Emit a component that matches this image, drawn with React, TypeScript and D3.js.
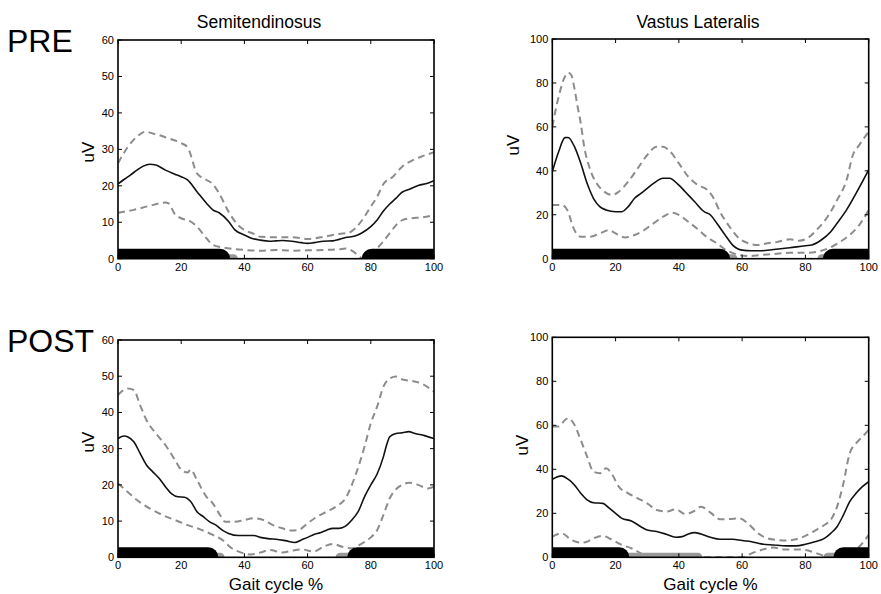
import React from 'react';
import * as d3 from 'd3';

type Pt = [number, number];

const gaitTicks = [0, 20, 40, 60, 80, 100];
const semiTicks = [0, 10, 20, 30, 40, 50, 60];
const vastusTicks = [0, 20, 40, 60, 80, 100];
const muscleTitles = ['Semitendinosus', 'Vastus Lateralis'];
const sessionLabels = ['PRE', 'POST'];
const yLabel = 'uV';
const xLabel = 'Gait cycle %';

// PRE Semitendinosus
const preSemiMean: Pt[] = [[0,20.5],[2,21.8],[4,23.0],[6,24.3],[8,25.4],[10,25.9],[12,25.7],[15,24.3],[18,23.2],[20,22.5],[22,21.6],[25,18.4],[28,15.2],[30,13.4],[32,12.6],[35,10.2],[37,7.9],[40,6.5],[42,5.7],[45,5.1],[48,4.8],[50,4.9],[52,5.0],[55,4.8],[58,4.4],[60,4.2],[62,4.4],[65,4.8],[68,4.9],[70,5.3],[72,5.8],[75,6.2],[77,7.0],[80,8.8],[82,10.6],[84,13.1],[86,15.0],[88,16.6],[90,18.3],[92,19.0],[95,20.1],[98,20.7],[100,21.4]];
const preSemiUpper: Pt[] = [[0,26.2],[3,30.5],[6,33.5],[9,34.9],[10,34.6],[13,33.9],[15,33.3],[20,31.7],[22,30.6],[25,23.4],[28,21.6],[30,20.5],[32,17.9],[35,12.9],[38,9.2],[40,7.9],[43,6.8],[45,6.0],[50,5.9],[55,5.9],[60,5.4],[65,6.0],[70,6.8],[73,7.1],[75,8.3],[78,11.5],[80,14.3],[82,17.0],[84,20.5],[87,22.5],[90,25.3],[93,26.9],[96,28.0],[100,29.2]];
const preSemiLower: Pt[] = [[0,12.6],[5,13.4],[10,14.5],[15,15.4],[16,15.2],[18,12.2],[20,11.1],[23,10.2],[25,8.8],[28,5.6],[30,3.8],[33,3.1],[36,2.7],[40,2.4],[45,2.2],[50,2.4],[55,2.2],[60,2.3],[65,2.4],[70,2.6],[72,2.8],[74,2.2],[76,0.9],[77.5,0],[80,1.3],[83,3.8],[86,7.0],[88,9.2],[90,10.6],[93,11.1],[96,11.3],[100,12.0]];

// PRE Vastus Lateralis
const preVastMean: Pt[] = [[0,39.6],[2,48.7],[4,55.1],[5,55.2],[7,51.0],[9,43.4],[11,34.3],[13,27.5],[15,23.7],[17,22.2],[20,21.4],[22,21.4],[24,23.7],[26,27.5],[28,29.7],[30,32.0],[32,34.3],[35,36.6],[37,36.6],[40,33.5],[42,30.5],[45,25.9],[48,21.4],[50,19.9],[52,16.1],[55,10.0],[57,6.2],[60,3.9],[63,3.6],[66,3.6],[70,4.2],[75,5.0],[80,5.9],[82,6.2],[85,8.5],[88,12.3],[90,16.1],[93,22.2],[96,29.7],[100,40.4]];
const preVastUpper: Pt[] = [[0,60.1],[2,73.7],[4,82.9],[5,84.7],[6,83.6],[7,77.5],[8,69.2],[9,61.6],[10,51.7],[12,40.4],[14,34.3],[16,31.0],[19,29.0],[21,30.5],[24,35.1],[27,41.1],[30,47.2],[33,51.0],[35,51.0],[37,49.2],[40,43.4],[43,37.3],[46,33.5],[49,31.3],[51,27.5],[53,21.4],[56,14.6],[59,9.3],[62,7.0],[65,6.2],[68,7.0],[71,7.6],[75,8.8],[78,8.2],[81,9.7],[84,13.8],[87,19.1],[90,26.7],[93,35.8],[95,47.2],[97,51.7],[100,57.8]];
const preVastLower: Pt[] = [[0,24.4],[3,24.4],[5,21.4],[6,16.8],[7,13.0],[9,10.0],[12,10.0],[15,11.5],[18,13.0],[20,11.5],[23,9.7],[26,10.8],[29,13.0],[32,16.1],[35,19.1],[38,20.9],[40,19.9],[43,16.8],[46,13.4],[49,9.7],[52,7.0],[55,3.9],[58,2.1],[62,1.2],[66,1.7],[70,2.1],[75,2.7],[80,2.7],[85,3.6],[88,5.2],[91,7.7],[94,10.8],[97,15.3],[100,22.2]];

// POST Semitendinosus
const postSemiMean: Pt[] = [[0,32.8],[2,33.5],[3,33.3],[5,31.9],[7,28.7],[9,25.5],[11,23.6],[13,21.8],[15,19.5],[17,17.5],[19,16.7],[21,16.6],[23,15.4],[25,12.6],[27,11.2],[29,9.8],[31,8.9],[33,7.5],[35,6.6],[38,6.0],[40,6.0],[43,6.0],[45,5.5],[48,5.1],[50,5.0],[53,4.6],[56,4.1],[58,4.8],[60,5.5],[62,6.3],[64,6.8],[66,7.5],[68,8.0],[70,8.0],[72,8.6],[74,10.3],[76,12.6],[78,16.7],[80,20.0],[82,23.0],[84,27.8],[85,31.0],[86,33.3],[88,34.2],[90,34.4],[92,34.7],[94,34.2],[97,33.6],[100,32.8]];
const postSemiUpper: Pt[] = [[0,44.8],[3,46.6],[5,46.2],[7,42.0],[9,37.9],[12,34.2],[15,31.0],[18,26.9],[20,24.2],[22,23.4],[23,24.2],[25,21.3],[28,16.7],[30,14.9],[32,12.1],[34,9.8],[37,9.8],[40,10.3],[43,10.8],[46,10.3],[49,8.9],[52,8.0],[55,7.4],[57,7.5],[60,9.4],[63,11.2],[66,12.6],[69,14.0],[72,16.3],[75,22.3],[78,30.5],[80,37.0],[82,41.6],[84,47.1],[86,49.4],[88,49.9],[90,49.1],[93,48.7],[96,48.0],[100,45.7]];
const postSemiLower: Pt[] = [[0,20.4],[3,18.1],[6,15.8],[10,13.5],[14,11.7],[18,10.3],[22,8.9],[26,7.7],[30,6.2],[33,4.8],[36,2.5],[39,1.3],[42,0.8],[45,1.3],[48,2.0],[52,1.3],[55,1.8],[58,2.2],[62,1.6],[65,2.9],[68,3.7],[71,2.9],[74,2.5],[77,3.7],[80,5.5],[82,7.5],[84,11.7],[86,16.3],[88,18.8],[90,20.0],[92,20.6],[95,20.0],[98,19.0],[100,19.5]];

// POST Vastus Lateralis
const postVastMean: Pt[] = [[0,35.5],[3,37.0],[5,35.5],[7,32.9],[9,29.1],[11,26.1],[13,24.8],[16,24.5],[18,22.3],[20,20.0],[22,17.7],[25,16.5],[28,13.9],[30,12.4],[33,11.7],[36,10.5],[39,9.1],[41,9.4],[43,10.6],[45,11.2],[47,10.6],[50,9.1],[53,8.2],[57,8.2],[60,7.6],[63,7.1],[66,6.1],[70,5.6],[74,5.2],[77,5.2],[80,5.9],[83,7.1],[86,8.6],[88,10.9],[90,13.9],[92,19.2],[94,25.3],[96,29.1],[98,32.1],[100,34.4]];
const postVastUpper: Pt[] = [[0,59.4],[2,59.4],[4,62.4],[5,63.2],[7,60.2],[9,53.3],[11,45.8],[13,38.9],[15,38.2],[17,40.5],[19,37.4],[21,32.1],[24,29.1],[27,26.8],[30,24.5],[33,21.5],[36,20.8],[39,21.8],[42,19.7],[45,21.2],[47,23.0],[50,20.3],[53,17.3],[56,17.4],[59,17.7],[62,15.2],[65,10.9],[68,8.6],[71,7.9],[74,7.6],[77,8.2],[80,9.7],[83,12.1],[86,14.7],[88,17.0],[90,23.0],[92,33.6],[94,47.3],[96,51.8],[98,54.8],[100,57.9]];
const postVastLower: Pt[] = [[0,9.4],[3,10.9],[6,7.9],[9,6.7],[11,7.1],[13,8.6],[16,9.7],[19,7.9],[22,5.6],[25,4.1],[28,1.8],[30,0],[45,0],[60,0],[63,1.8],[66,3.3],[70,4.4],[73,3.6],[77,3.6],[80,3.3],[83,2.1],[86,0.6],[88,0],[93,0],[95,2.6],[97,4.8],[100,10.2]];

// Gait phase bars (x in % gait cycle)
const preSemiStance: Pt[] = [[0, 32.3], [80.3, 100]];
const preSemiTransition: Pt[] = [[34.5, 36.5]];
const preVastStance: Pt[] = [[0, 53], [88.7, 100]];
const preVastTransition: Pt[] = [[50, 57.1], [85.2, 87.5]];
const postSemiStance: Pt[] = [[0, 28.6], [75.7, 100]];
const postSemiTransition: Pt[] = [[28, 32.3], [70.3, 74]];
const postVastStance: Pt[] = [[0, 21.2], [92, 100]];
const postVastTransition: Pt[] = [[21, 46], [87.1, 90]];

interface PanelSpec {
  id: string;
  left: number; right: number; top: number; bottom: number;
  yMax: number; yTicks: number[];
  mean: Pt[]; upper: Pt[]; lower: Pt[];
  stance: Pt[]; transition: Pt[];
  title?: string; titleX?: number;
  session?: string; sessionBaseline?: number;
  showXLabel: boolean;
  yLabelX: number; yLabelY: number;
}

const FONT = "'Liberation Sans', Arial, Helvetica, sans-serif";

const panels: PanelSpec[] = [
  { id: 'p1', left: 118, right: 434, top: 40, bottom: 258.7, yMax: 60, yTicks: semiTicks,
    mean: preSemiMean, upper: preSemiUpper, lower: preSemiLower, stance: preSemiStance, transition: preSemiTransition,
    title: muscleTitles[0], titleX: 259, session: sessionLabels[0], sessionBaseline: 52, showXLabel: false, yLabelX: 94, yLabelY: 152 },
  { id: 'p2', left: 552.3, right: 868.7, top: 39, bottom: 258.7, yMax: 100, yTicks: vastusTicks,
    mean: preVastMean, upper: preVastUpper, lower: preVastLower, stance: preVastStance, transition: preVastTransition,
    title: muscleTitles[1], titleX: 698, showXLabel: false, yLabelX: 519, yLabelY: 145 },
  { id: 'p3', left: 118, right: 434, top: 340, bottom: 557.3, yMax: 60, yTicks: semiTicks,
    mean: postSemiMean, upper: postSemiUpper, lower: postSemiLower, stance: postSemiStance, transition: postSemiTransition,
    session: sessionLabels[1], sessionBaseline: 352, showXLabel: true, yLabelX: 94, yLabelY: 442 },
  { id: 'p4', left: 552.3, right: 868.7, top: 337.3, bottom: 557.3, yMax: 100, yTicks: vastusTicks,
    mean: postVastMean, upper: postVastUpper, lower: postVastLower, stance: postVastStance, transition: postVastTransition,
    showXLabel: true, yLabelX: 528, yLabelY: 445 },
];

function Panel({ p }: { p: PanelSpec }) {
  const x = d3.scaleLinear().domain([0, 100]).range([p.left, p.right]);
  const y = d3.scaleLinear().domain([0, p.yMax]).range([p.bottom, p.top]);
  const line = d3.line<Pt>().x(d => x(d[0])).y(d => y(d[1])).curve(d3.curveMonotoneX);
  const seg = (s: Pt) => `M${x(s[0])},${y(0)}L${x(s[1])},${y(0)}`;
  const tickLen = 4;
  return (
    <g>
      <defs>
        <clipPath id={`clip-${p.id}`}>
          <rect x={p.left} y={p.top} width={p.right - p.left} height={p.bottom - p.top} />
        </clipPath>
      </defs>
      <g clipPath={`url(#clip-${p.id})`}>
        <path d={line(p.upper) || ''} fill="none" stroke="#8c8c8c" strokeWidth={2} strokeDasharray="7,4.5" />
        <path d={line(p.lower) || ''} fill="none" stroke="#8c8c8c" strokeWidth={2} strokeDasharray="7,4.5" />
        <path d={line(p.mean) || ''} fill="none" stroke="#111" strokeWidth={1.6} />
        {p.transition.map((s, i) => (
          <path key={`t${i}`} d={seg(s)} stroke="#999" strokeWidth={9} strokeLinecap="round" fill="none" />
        ))}
        {p.stance.map((s, i) => (
          <path key={`s${i}`} d={seg(s)} stroke="#000" strokeWidth={20} strokeLinecap="round" fill="none" />
        ))}
      </g>
      {gaitTicks.map(t => (
        <g key={`xt${t}`}>
          <line x1={x(t)} x2={x(t)} y1={p.bottom} y2={p.bottom - tickLen} stroke="#000" strokeWidth={1} />
          <line x1={x(t)} x2={x(t)} y1={p.top} y2={p.top + tickLen} stroke="#000" strokeWidth={1} />
          <text x={x(t)} y={p.bottom + 12} textAnchor="middle" fontSize={11} fontFamily={FONT}>{t}</text>
        </g>
      ))}
      {p.yTicks.map(t => (
        <g key={`yt${t}`}>
          <line x1={p.left} x2={p.left + tickLen} y1={y(t)} y2={y(t)} stroke="#000" strokeWidth={1} />
          <line x1={p.right} x2={p.right - tickLen} y1={y(t)} y2={y(t)} stroke="#000" strokeWidth={1} />
          <text x={p.left - 4} y={y(t)} dy="0.35em" textAnchor="end" fontSize={11} fontFamily={FONT}>{t}</text>
        </g>
      ))}
      <rect x={p.left} y={p.top} width={p.right - p.left} height={p.bottom - p.top} fill="none" stroke="#000" strokeWidth={1.6} />
      <text transform={`translate(${p.yLabelX},${p.yLabelY}) rotate(-90)`} textAnchor="middle" fontSize={17} fontFamily={FONT}>{yLabel}</text>
      {p.title && (
        <text x={p.titleX} y={28} textAnchor="middle" fontSize={17.5} fontFamily={FONT}>{p.title}</text>
      )}
      {p.session && (
        <text x={7} y={p.sessionBaseline} fontSize={32} fontFamily={FONT}>{p.session}</text>
      )}
      {p.showXLabel && (
        <text x={(p.left + p.right) / 2} y={590} textAnchor="middle" fontSize={17} fontFamily={FONT}>{xLabel}</text>
      )}
    </g>
  );
}

export default function App() {
  return (
    <svg width={881} height={594} style={{ position: 'absolute', left: 0, top: 0, background: '#fff' }}>
      <rect x={0} y={0} width={881} height={594} fill="#fff" />
      {panels.map(p => <Panel key={p.id} p={p} />)}
    </svg>
  );
}
